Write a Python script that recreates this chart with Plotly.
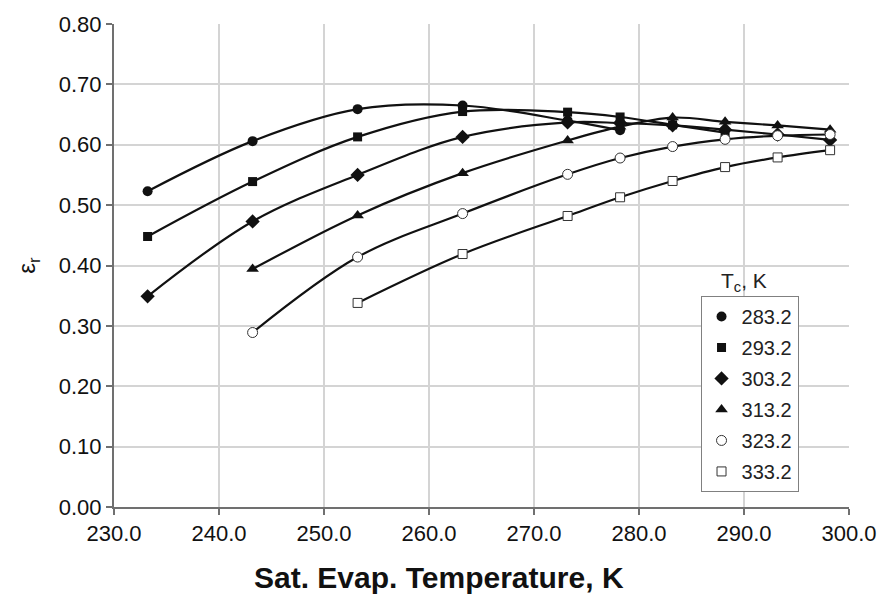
import plotly.graph_objects as go

# Saturated evaporating temperature (K) for each condensing temperature series
te_283 = [233.2, 243.2, 253.2, 263.2, 273.2, 278.2]
er_283 = [0.523, 0.606, 0.659, 0.665, 0.640, 0.624]

te_293 = [233.2, 243.2, 253.2, 263.2, 273.2, 278.2, 283.2, 288.2]
er_293 = [0.448, 0.539, 0.613, 0.655, 0.654, 0.646, 0.633, 0.620]

te_303 = [233.2, 243.2, 253.2, 263.2, 273.2, 278.2, 283.2, 288.2, 293.2, 298.2]
er_303 = [0.349, 0.473, 0.550, 0.613, 0.637, 0.636, 0.632, 0.625, 0.617, 0.608]

te_313 = [243.2, 253.2, 263.2, 273.2, 278.2, 283.2, 288.2, 293.2, 298.2]
er_313 = [0.394, 0.483, 0.553, 0.607, 0.630, 0.645, 0.638, 0.632, 0.625]

te_323 = [243.2, 253.2, 263.2, 273.2, 278.2, 283.2, 288.2, 293.2, 298.2]
er_323 = [0.289, 0.414, 0.486, 0.551, 0.578, 0.597, 0.609, 0.615, 0.617]

te_333 = [253.2, 263.2, 273.2, 278.2, 283.2, 288.2, 293.2, 298.2]
er_333 = [0.338, 0.419, 0.482, 0.513, 0.540, 0.563, 0.579, 0.591]

series_names = ["283.2", "293.2", "303.2", "313.2", "323.2", "333.2"]
x_ticks = [230, 240, 250, 260, 270, 280, 290, 300]
y_ticks = [0.0, 0.1, 0.2, 0.3, 0.4, 0.5, 0.6, 0.7, 0.8]

FONT = "Liberation Sans, Arial, sans-serif"
INK = "#111111"

series = [
    (te_283, er_283, dict(symbol="circle", size=10, color=INK)),
    (te_293, er_293, dict(symbol="square", size=9, color=INK)),
    (te_303, er_303, dict(symbol="diamond", size=11, color=INK)),
    (te_313, er_313, dict(symbol="triangle-up", size=11, color=INK)),
    (te_323, er_323, dict(symbol="circle", size=10, color="white",
                          line=dict(color="#333333", width=1))),
    (te_333, er_333, dict(symbol="square", size=9, color="white",
                          line=dict(color="#333333", width=1))),
]

fig = go.Figure()

# smoothed curves first, markers on top
for (x, y, _), name in zip(series, series_names):
    fig.add_trace(go.Scatter(
        x=x, y=y, mode="lines", showlegend=False, hoverinfo="skip",
        line=dict(color=INK, width=2.2, shape="spline", smoothing=1.0),
    ))

for (x, y, mk), name in zip(series, series_names):
    fig.add_trace(go.Scatter(
        x=x, y=y, mode="markers", name=name, legendgroup=name,
        marker=mk,
    ))

fig.update_layout(
    width=889, height=601,
    margin=dict(l=114, r=33, t=17, b=94),
    paper_bgcolor="white", plot_bgcolor="white",
    font=dict(family=FONT, size=22, color=INK),
    legend=dict(
        x=0.798, y=0.437, xanchor="left", yanchor="top",
        bgcolor="white", bordercolor="#808080", borderwidth=1,
        font=dict(family=FONT, size=20, color="#222222"),
        traceorder="grouped", tracegroupgap=2,
    ),
    annotations=[
        dict(text="T<sub>c</sub>, K", x=0.857, y=0.434, xref="paper", yref="paper",
             xanchor="center", yanchor="bottom", showarrow=False,
             font=dict(family=FONT, size=21, color="#222222")),
        dict(text="<b>Sat. Evap. Temperature, K</b>", x=(442 - 114) / 742, y=-0.145,
             xref="paper", yref="paper", xanchor="center", yanchor="middle",
             showarrow=False, font=dict(family=FONT, size=30, color=INK)),
    ],
)

fig.update_xaxes(
    range=[230, 300], tickvals=x_ticks, tickformat=".1f",
    showgrid=True, gridcolor="#d4d4d4", gridwidth=1.5,
    showline=True, linecolor="#707070", linewidth=2,
    ticks="outside", ticklen=6, tickcolor="#707070", tickwidth=1.5,
    zeroline=False, tickfont=dict(family=FONT, size=22, color=INK),
)
fig.update_yaxes(
    range=[0, 0.8], tickvals=y_ticks, tickformat=".2f",
    showgrid=True, gridcolor="#d4d4d4", gridwidth=1.5,
    showline=True, linecolor="#707070", linewidth=2,
    ticks="outside", ticklen=6, tickcolor="#707070", tickwidth=1.5,
    zeroline=False, tickfont=dict(family=FONT, size=22, color=INK),
    title=dict(text="ε<sub>r</sub>", standoff=16,
               font=dict(family=FONT, size=24, color=INK)),
)

fig.write_html("out.html")
